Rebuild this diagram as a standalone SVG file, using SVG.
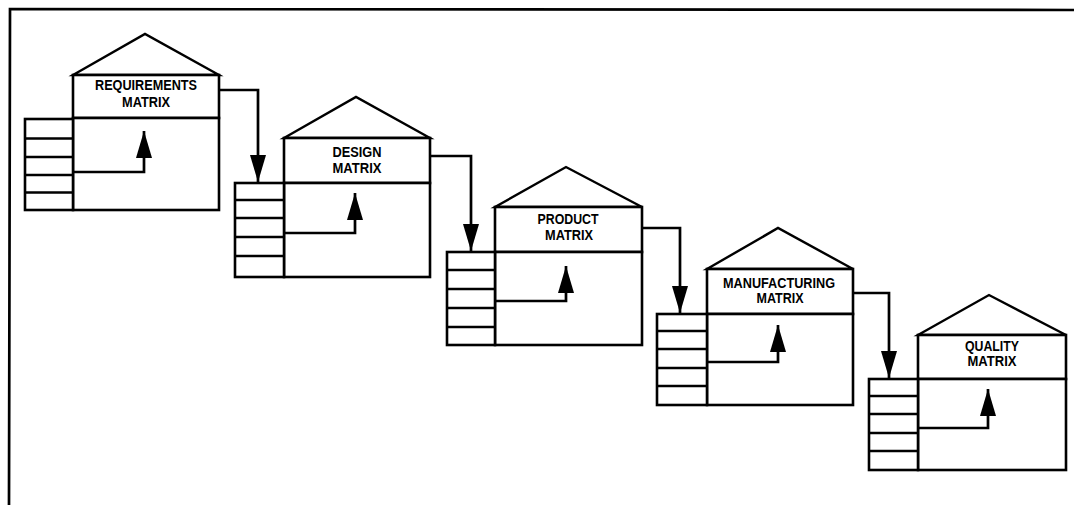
<svg xmlns="http://www.w3.org/2000/svg" width="1074" height="505" viewBox="0 0 1074 505">
<style>
.ln{fill:none;stroke:#000;stroke-width:2.7;stroke-linejoin:miter}
.bx{fill:#fff;stroke:#000;stroke-width:2.6}
.rf{fill:#fff;stroke:#000;stroke-width:2.4;stroke-linejoin:miter}
.tx{font-family:"Liberation Sans",Arial,sans-serif;font-size:14px;font-weight:bold;fill:#000;text-anchor:middle}
</style>
<defs>
<marker id="ah" markerUnits="userSpaceOnUse" markerWidth="30" markerHeight="18" refX="27" refY="8" orient="auto">
<path d="M0,0 L27,8 L0,16 z" fill="#000"/>
</marker>
</defs>
<rect width="1074" height="505" fill="#fff"/>
<path class="ln" d="M9,505 L10,9 L1074,10"/>

<g id="house1">
<polygon class="rf" points="73,75 145,34 219,75"/>
<rect class="bx" x="73" y="75" width="146" height="43"/>
<rect class="bx" x="73" y="118" width="146" height="92"/>
<rect class="bx" x="25" y="119" width="48" height="91"/>
<path class="ln" d="M25,138.5 H73 M25,157 H73 M25,175 H73 M25,192.5 H73"/>
<path class="ln" d="M73,172 H144 V131" marker-end="url(#ah)"/>
<text class="tx" x="146" y="90" textLength="102" lengthAdjust="spacingAndGlyphs">REQUIREMENTS</text>
<text class="tx" x="146" y="107" textLength="48" lengthAdjust="spacingAndGlyphs">MATRIX</text>
</g>

<g id="house2">
<polygon class="rf" points="284,138 356,97 430,138"/>
<rect class="bx" x="284" y="138" width="146" height="45"/>
<rect class="bx" x="284" y="183" width="146" height="94"/>
<rect class="bx" x="235" y="183" width="49" height="94"/>
<path class="ln" d="M235,200 H284 M235,218 H284 M235,237 H284 M235,256 H284"/>
<path class="ln" d="M284,233 H355 V193" marker-end="url(#ah)"/>
<text class="tx" x="357" y="157" textLength="49" lengthAdjust="spacingAndGlyphs">DESIGN</text>
<text class="tx" x="357" y="173" textLength="49" lengthAdjust="spacingAndGlyphs">MATRIX</text>
</g>

<g id="house3">
<polygon class="rf" points="495,207 566,167 642,207"/>
<rect class="bx" x="495" y="207" width="147" height="45"/>
<rect class="bx" x="495" y="252" width="147" height="93"/>
<rect class="bx" x="447" y="252" width="48" height="93"/>
<path class="ln" d="M447,270 H495 M447,289 H495 M447,308 H495 M447,327 H495"/>
<path class="ln" d="M495,301 H566 V266" marker-end="url(#ah)"/>
<text class="tx" x="568" y="224" textLength="61" lengthAdjust="spacingAndGlyphs">PRODUCT</text>
<text class="tx" x="569" y="240" textLength="48" lengthAdjust="spacingAndGlyphs">MATRIX</text>
</g>

<g id="house4">
<polygon class="rf" points="707,269 778,228 853,269"/>
<rect class="bx" x="707" y="269" width="146" height="45"/>
<rect class="bx" x="707" y="314" width="146" height="91"/>
<rect class="bx" x="657" y="314" width="50" height="91"/>
<path class="ln" d="M657,331 H707 M657,349 H707 M657,368 H707 M657,386 H707"/>
<path class="ln" d="M707,362 H778 V325" marker-end="url(#ah)"/>
<text class="tx" x="779" y="288" textLength="112" lengthAdjust="spacingAndGlyphs">MANUFACTURING</text>
<text class="tx" x="780" y="303" textLength="47" lengthAdjust="spacingAndGlyphs">MATRIX</text>
</g>

<g id="house5">
<polygon class="rf" points="918,335 989,295 1066,335"/>
<rect class="bx" x="918" y="335" width="148" height="44"/>
<rect class="bx" x="918" y="379" width="148" height="91"/>
<rect class="bx" x="869" y="379" width="49" height="91"/>
<path class="ln" d="M869,396 H918 M869,414 H918 M869,433 H918 M869,451 H918"/>
<path class="ln" d="M918,428 H988 V389" marker-end="url(#ah)"/>
<text class="tx" x="992" y="351" textLength="54" lengthAdjust="spacingAndGlyphs">QUALITY</text>
<text class="tx" x="992" y="366" textLength="49" lengthAdjust="spacingAndGlyphs">MATRIX</text>
</g>

<g id="connectors">
<path class="ln" d="M219,90 H258 V182" marker-end="url(#ah)"/>
<path class="ln" d="M430,156 H471 V251" marker-end="url(#ah)"/>
<path class="ln" d="M642,228 H680 V313" marker-end="url(#ah)"/>
<path class="ln" d="M853,293 H889 V378" marker-end="url(#ah)"/>
</g>
</svg>
